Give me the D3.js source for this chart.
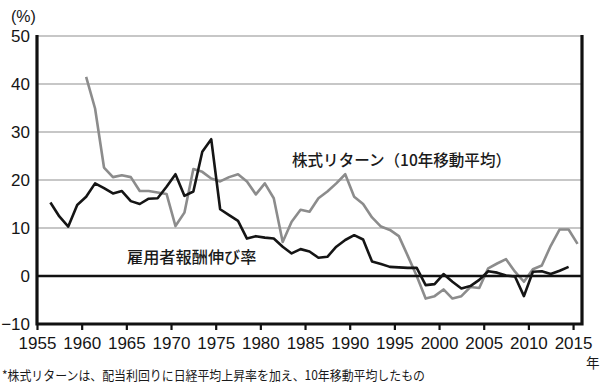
<!DOCTYPE html>
<html>
<head>
<meta charset="utf-8">
<script src="https://cdn.jsdelivr.net/npm/d3@7"></script>
<style>
  html, body { margin: 0; padding: 0; background: #fff; }
  #chart svg { display: block; }
  .tick-label { font-family: 'Liberation Sans Narrow', 'Liberation Sans', Arial, sans-serif; font-size: 17px; fill: #151515; }
  .jp { font-family: 'Noto Sans CJK JP', sans-serif; fill: #1a1a1a; }
</style>
</head>
<body>
<div id="chart"></div>
<script>
const CHART_SIZE = Object.freeze({
  WIDTH: 600,
  HEIGHT: 383,
  LEFT: 37,
  RIGHT: 582,
  TOP: 36,
  BOTTOM: 324,
})

// 雇用者報酬伸び率 (1956-2014)
const compStartYear = 1956
const compensation = [
  15.3, 12.4, 10.3, 14.8, 16.5, 19.3, 18.3, 17.2, 17.7, 15.6,
  15.0, 16.1, 16.2, 18.6, 21.2, 16.7, 17.6, 25.9, 28.5, 13.9,
  12.7, 11.5, 7.8, 8.3, 8.0, 7.8, 6.1, 4.7, 5.6, 5.1,
  3.8, 4.0, 6.1, 7.5, 8.5, 7.6, 3.0, 2.5, 1.9, 1.8,
  1.7, 1.7, -1.9, -1.7, 0.4, -1.2, -2.6, -2.1, -0.8, 1.0,
  0.7, 0.1, -0.1, -4.2, 0.9, 1.0, 0.4, 1.1, 1.9
]

// 株式リターン(10年移動平均) (1960-2015)
const stockStartYear = 1960
const stockReturn = [
  41.5, 34.9, 22.6, 20.6, 21.0, 20.6, 17.7, 17.7, 17.4, 17.1,
  10.4, 13.2, 22.3, 21.7, 20.3, 19.7, 20.6, 21.2, 19.7, 17.0,
  19.3, 16.2, 7.1, 11.3, 13.8, 13.4, 16.2, 17.6, 19.3, 21.2,
  16.5, 15.0, 12.2, 10.3, 9.6, 8.3, 4.2, 0.0, -4.7, -4.2,
  -2.8, -4.7, -4.2, -2.3, -2.5, 1.6, 2.6, 3.5, 0.9, -1.2,
  1.4, 2.2, 6.3, 9.7, 9.7, 6.7
]

const yTicks = [-10, 0, 10, 20, 30, 40, 50]
const xTicks = [1955, 1960, 1965, 1970, 1975, 1980, 1985, 1990, 1995, 2000, 2005, 2010, 2015]

const stockLabel = '株式リターン（10年移動平均）'
const compLabel = '雇用者報酬伸び率'
const footnote = '*株式リターンは、配当利回りに日経平均上昇率を加え、10年移動平均したもの'

const toSeries = (start, values) => values.map((v, i) => [start + i, v])

const buildChart = () => {
  const xScale = d3.scaleLinear()
    .domain([1955, 2016])
    .range([CHART_SIZE.LEFT, CHART_SIZE.RIGHT])
  const yScale = d3.scaleLinear()
    .domain([-10, 50])
    .range([CHART_SIZE.BOTTOM, CHART_SIZE.TOP])

  const svg = d3.select('#chart')
    .append('svg')
    .attr('width', CHART_SIZE.WIDTH)
    .attr('height', CHART_SIZE.HEIGHT)

  // gridlines
  svg.append('g')
    .selectAll('line')
    .data(yTicks.filter(t => t > 0))
    .join('line')
    .attr('x1', CHART_SIZE.LEFT)
    .attr('x2', CHART_SIZE.RIGHT)
    .attr('y1', d => yScale(d))
    .attr('y2', d => yScale(d))
    .attr('stroke', '#b4b4b4')
    .attr('stroke-width', 1.6)

  // y tick labels
  svg.append('g')
    .attr('transform', `translate(${CHART_SIZE.LEFT}, 0)`)
    .call(d3.axisLeft(yScale).tickValues(yTicks).tickSize(0).tickPadding(7))
    .call(g => g.select('.domain').remove())
    .call(g => g.selectAll('text').attr('class', 'tick-label').attr('font-family', null).attr('font-size', null))

  // x axis ticks + labels
  svg.append('g')
    .attr('transform', `translate(0, ${CHART_SIZE.BOTTOM})`)
    .call(d3.axisBottom(xScale).tickValues(xTicks).tickFormat(d3.format('d')).tickSize(6).tickPadding(7))
    .call(g => g.select('.domain').remove())
    .call(g => g.selectAll('line').attr('stroke', '#111').attr('stroke-width', 2.2))
    .call(g => g.selectAll('text').attr('class', 'tick-label').attr('font-family', null).attr('font-size', null))

  const line = d3.line()
    .x(d => xScale(d[0] + 0.5)) // values sit mid-year
    .y(d => yScale(d[1]))

  svg.append('path')
    .datum(toSeries(stockStartYear, stockReturn))
    .attr('fill', 'none')
    .attr('stroke', '#8c8c8c')
    .attr('stroke-width', 2.6)
    .attr('stroke-linejoin', 'round')
    .attr('d', line)

  // zero line
  svg.append('line')
    .attr('x1', CHART_SIZE.LEFT)
    .attr('x2', CHART_SIZE.RIGHT)
    .attr('y1', yScale(0))
    .attr('y2', yScale(0))
    .attr('stroke', '#111')
    .attr('stroke-width', 2.6)

  svg.append('path')
    .datum(toSeries(compStartYear, compensation))
    .attr('fill', 'none')
    .attr('stroke', '#151515')
    .attr('stroke-width', 2.6)
    .attr('stroke-linejoin', 'round')
    .attr('d', line)

  // frame: left, bottom, right
  svg.append('path')
    .attr('d', `M${CHART_SIZE.LEFT},${CHART_SIZE.TOP - 1}V${CHART_SIZE.BOTTOM}H${CHART_SIZE.RIGHT}V${CHART_SIZE.TOP - 1}`)
    .attr('fill', 'none')
    .attr('stroke', '#111')
    .attr('stroke-width', 3.2)

  svg.append('text')
    .attr('class', 'tick-label')
    .attr('x', 11)
    .attr('y', 22)
    .style('font-size', '16px')
    .text('(%)')

  svg.append('text')
    .attr('class', 'jp')
    .attr('x', 292)
    .attr('y', 166)
    .attr('textLength', 219)
    .attr('lengthAdjust', 'spacingAndGlyphs')
    .style('font-size', '15.5px')
    .style('font-weight', 500)
    .text(stockLabel)

  svg.append('text')
    .attr('class', 'jp')
    .attr('x', 127)
    .attr('y', 263)
    .style('font-size', '16.2px')
    .style('font-weight', 500)
    .text(compLabel)

  svg.append('text')
    .attr('class', 'jp')
    .attr('x', 586)
    .attr('y', 368)
    .style('font-size', '13.5px')
    .text('年')

  svg.append('text')
    .attr('class', 'jp')
    .attr('x', 2)
    .attr('y', 380)
    .attr('textLength', 423)
    .attr('lengthAdjust', 'spacingAndGlyphs')
    .style('font-size', '12.8px')
    .text(footnote)
}

document.addEventListener('DOMContentLoaded', () => {
  buildChart()
})
</script>
</body>
</html>
